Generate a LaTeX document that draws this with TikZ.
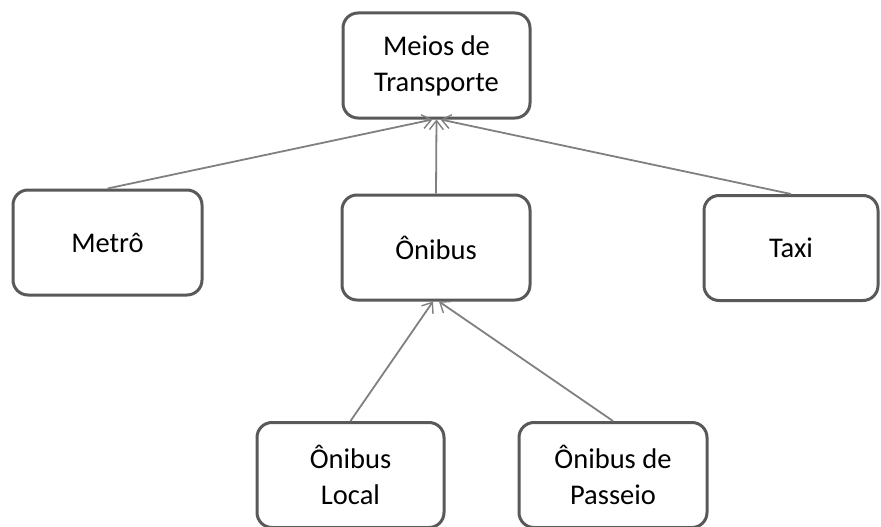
\documentclass[tikz,border=0pt]{standalone}
\usepackage{fontspec}
\setmainfont{Carlito}
\usetikzlibrary{arrows.meta,calc}
\begin{document}
\begin{tikzpicture}[x=1pt,y=-1pt,
  box/.style={draw=boxgray,line width=3pt,rounded corners=15pt,fill=white,
    minimum width=#1,minimum height=105pt,align=center,inner sep=2pt,
    font=\fontsize{28.5}{36}\selectfont},
  box/.default=187pt,
  link/.style={draw=linegray,line width=1.8pt,
    -{Straight Barb[length=9pt,width=14pt,line width=1.4pt]}}]
\definecolor{boxgray}{HTML}{595959}
\definecolor{linegray}{HTML}{808080}
\useasboundingbox (0,0) rectangle (881,527);
\node[box] (top) at (436.5,65.5) {Meios de\\Transporte};
\node[box=189pt] (metro) at (107.5,242.5) {Metrô};
\node[box=188pt] (onibus) at (436,247.5) {Ônibus};
\node[box=174pt] (taxi) at (791,248) {Taxi};
\node[box] (local) at (350.5,475) {Ônibus\\Local};
\node[box=188pt] (passeio) at (613,475) {Ônibus de\\Passeio};
\draw[link] (metro.north) -- ($(top.south)+(-4,0)$);
\draw[link] (onibus.north) -- (top.south);
\draw[link] (taxi.north) -- ($(top.south)+(4,0)$);
\draw[link] (local.north) -- ($(onibus.south)+(-3,0)$);
\draw[link] (passeio.north) -- ($(onibus.south)+(3,0)$);
\end{tikzpicture}
\end{document}
